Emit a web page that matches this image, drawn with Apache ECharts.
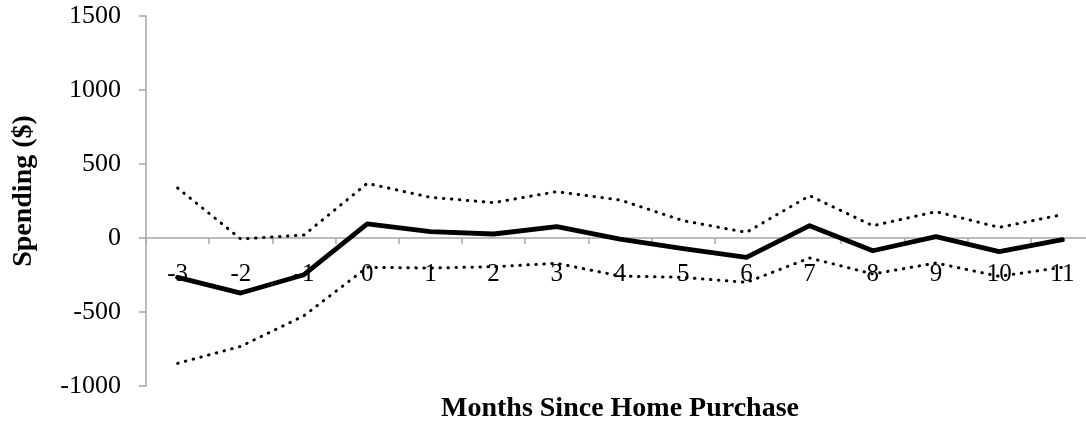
<!DOCTYPE html>
<html>
<head>
<meta charset="utf-8">
<script src="https://cdn.jsdelivr.net/npm/echarts@6/dist/echarts.min.js"></script>
<style>html,body{margin:0;padding:0;background:#fff;}#c{width:1086px;height:426px;}</style>
</head>
<body>
<div id="c"></div>
<script>
var months = ['-3','-2','-1','0','1','2','3','4','5','6','7','8','9','10','11'];
var estimate = [-266, -372, -248, 95, 43, 27, 77, -7, -72, -131, 83, -86, 9, -92, -11];
var upperCI = [338, -7, 20, 369, 275, 239, 313, 257, 117, 38, 286, 83, 178, 72, 158];
var lowerCI = [-847, -732, -525, -198, -203, -194, -171, -257, -266, -300, -135, -243, -169, -259, -198];
var yTicks = [-1000, -500, 0, 500, 1000, 1500];

var FONT = 'Liberation Serif';
var GRID_TOP = 16, GRID_BOTTOM = 40, H = 426;
var plotH = H - GRID_TOP - GRID_BOTTOM;
var yMin = yTicks[0], yMax = yTicks[yTicks.length-1];
// move x axis (line, ticks, labels, title) up to the zero line
var zeroOffset = -plotH * (0 - yMin) / (yMax - yMin);

var chart = echarts.init(document.getElementById('c'));
var dotted = {color:'#000', width:3, type:[0.5, 7.5], cap:'round'};
chart.setOption({
  animation:false,
  grid:{left:146, top:GRID_TOP, bottom:GRID_BOTTOM, right:-8, containLabel:false, outerBoundsMode:'none'},
  xAxis:{
    type:'category', data:months, boundaryGap:true, position:'bottom', offset:zeroOffset,
    name:'Months Since Home Purchase', nameLocation:'middle', nameGap:157,
    nameTextStyle:{fontFamily:FONT, fontWeight:'bold', fontSize:28, color:'#000'},
    axisLine:{onZero:false, lineStyle:{color:'#a6a6a6', width:1.5}},
    axisTick:{show:true, length:6, alignWithLabel:false, lineStyle:{color:'#a6a6a6', width:1.5}},
    axisLabel:{fontFamily:FONT, fontSize:25, color:'#000', margin:24}
  },
  yAxis:{
    type:'value', min:yMin, max:yMax, interval:500,
    name:'Spending ($)', nameLocation:'middle', nameGap:108,
    nameTextStyle:{fontFamily:FONT, fontWeight:'bold', fontSize:28, color:'#000', padding:[0,0,0,20]},
    axisLine:{show:true, lineStyle:{color:'#a6a6a6', width:1.5}},
    axisTick:{show:true, length:7, lineStyle:{color:'#a6a6a6', width:1.5}},
    splitLine:{show:false},
    axisLabel:{fontFamily:FONT, fontSize:26, color:'#000', margin:25, formatter:function(v){return String(v);}}
  },
  series:[
    {type:'line', data:upperCI, symbol:'none', lineStyle:dotted, z:2},
    {type:'line', data:lowerCI, symbol:'none', lineStyle:dotted, z:2},
    {type:'line', data:estimate, symbol:'none', lineStyle:{color:'#000', width:4.8, cap:'round', join:'round'}, z:3}
  ]
});
</script>
</body>
</html>
